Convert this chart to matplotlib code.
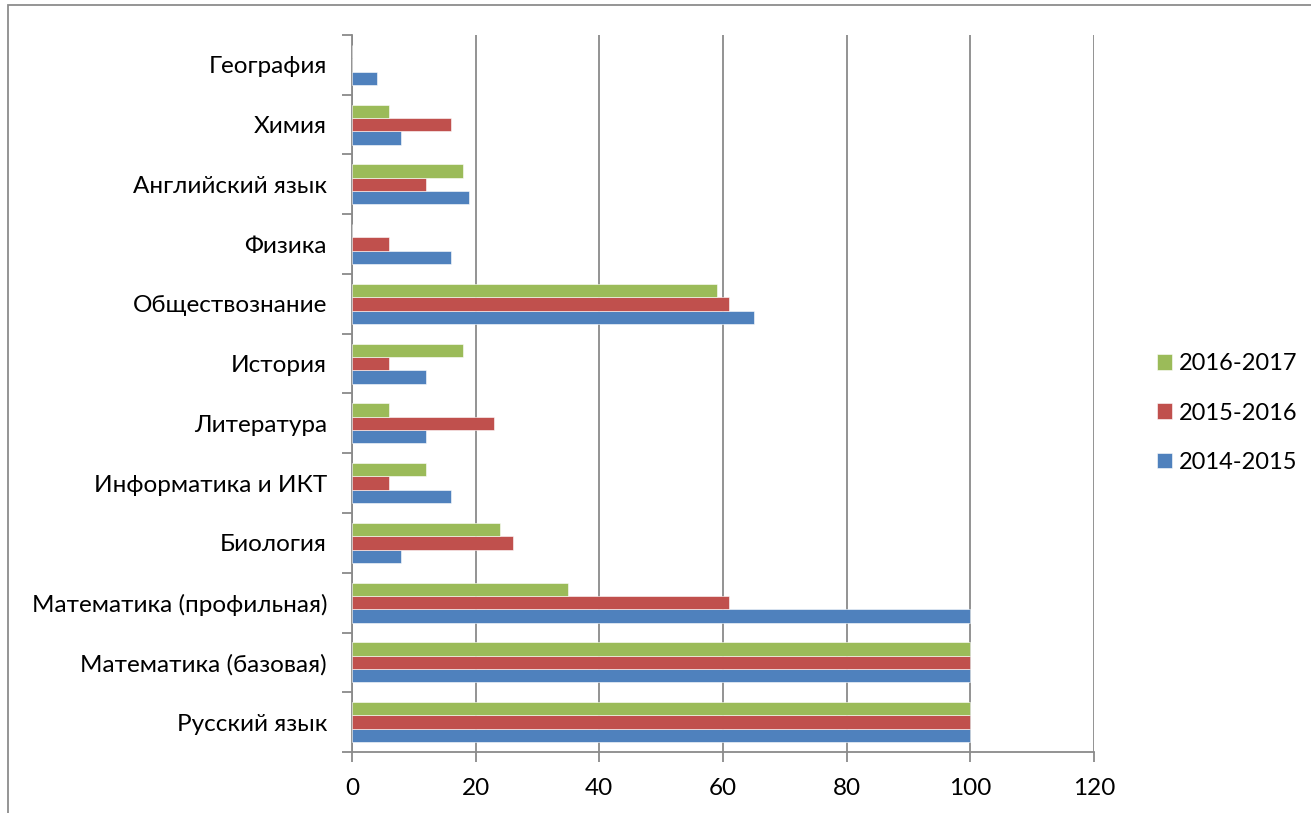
import numpy as np
import matplotlib
matplotlib.use("Agg")
import matplotlib.pyplot as plt
from matplotlib.patches import Rectangle

plt.rcParams["font.family"] = ["Lato", "DejaVu Sans"]

subjects = [
    "Русский язык",
    "Математика (базовая)",
    "Математика (профильная)",
    "Биология",
    "Информатика и ИКТ",
    "Литература",
    "История",
    "Обществознание",
    "Физика",
    "Английский язык",
    "Химия",
    "География",
]
y2014 = [100, 100, 100, 8, 16, 12, 12, 65, 16, 19, 8, 4]
y2015 = [100, 100, 61, 26, 6, 23, 6, 61, 6, 12, 16, 0]
y2016 = [100, 100, 35, 24, 12, 6, 18, 59, 0, 18, 6, 0]

series = [
    ("2014-2015", y2014, "#4F81BD"),
    ("2015-2016", y2015, "#C0504D"),
    ("2016-2017", y2016, "#9BBB59"),
]

W, H = 1311, 813
FS = 17.5
fig = plt.figure(figsize=(W / 100, H / 100), dpi=100)
ax = fig.add_axes([352 / W, 1 - 752 / H, (1094 - 352) / W, (752 - 35) / H])

# outer chart frame (only partly visible in the original)
fig.patches.append(Rectangle((8 / W, -0.1), 1.2, 1 - 5 / H + 0.1,
                             transform=fig.transFigure, fill=False,
                             edgecolor="#8c8c8c", linewidth=1.3))

pos = np.arange(len(subjects))
bh = 0.223
for i, (name, vals, color) in enumerate(series):
    ax.barh(pos + (i - 1) * bh, vals, height=bh, color=color,
            label=name, zorder=3, edgecolor="white", linewidth=0.4)

ax.set_xlim(0, 120)
ax.set_ylim(-0.5, len(subjects) - 0.5)
ax.set_xticks(range(0, 121, 20))
ax.set_yticks(pos)
ax.set_yticklabels(subjects)
ax.set_yticks(np.arange(-0.5, len(subjects), 1), minor=True)

grid_c = "#8a8a8a"
ax.grid(axis="x", color=grid_c, linewidth=1.3, zorder=0)
for s in ["top", "right"]:
    ax.spines[s].set_visible(False)
for s in ["left", "bottom"]:
    ax.spines[s].set_color(grid_c)
    ax.spines[s].set_linewidth(1.3)
ax.tick_params(axis="y", which="major", length=0, pad=18, labelsize=FS)
ax.tick_params(axis="y", which="minor", length=7, width=1.3, color=grid_c)
ax.tick_params(axis="x", length=7, width=1.3, color=grid_c, labelsize=FS, pad=12)

handles, labels = ax.get_legend_handles_labels()
leg = fig.legend(handles[::-1], labels[::-1], loc="center left",
                 bbox_to_anchor=(1157 / W, 1 - 413 / H), frameon=False,
                 fontsize=17, handlelength=0.64, handleheight=0.64,
                 labelspacing=1.2, handletextpad=0.3,
                 borderpad=0, borderaxespad=0)

fig.savefig("out.png", dpi=100)
